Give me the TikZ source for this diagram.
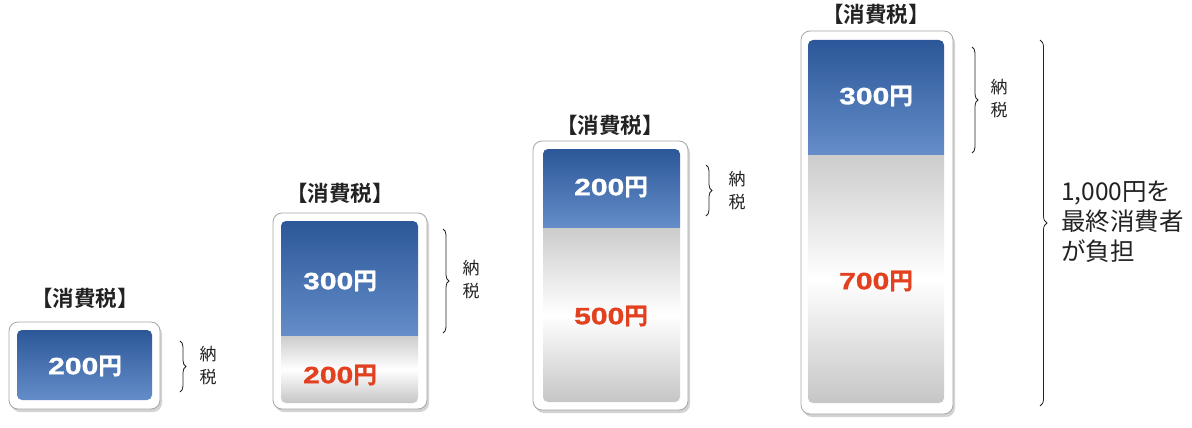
\documentclass[tikz,border=0pt]{standalone}
\usepackage{fontspec}
\setmainfont{Noto Sans CJK JP}
\newfontfamily\jpb{Noto Sans CJK JP Bold}
\newfontfamily\jpbb{Noto Sans CJK JP Bold}[FakeBold=1.2]
\newfontfamily\numb{Liberation Sans Bold}[FakeStretch=1.28,FakeBold=1.3]
\usetikzlibrary{shadows,decorations.pathreplacing}
\definecolor{bluetop}{HTML}{2C5798}
\definecolor{bluebot}{HTML}{648DC9}
\definecolor{redtxt}{HTML}{E2401E}
\definecolor{txt}{HTML}{222222}
\newcommand{\amt}[1]{{\numb #1}{\jpbb 円}}
\tikzset{
  frame/.style={draw=gray!70, line width=0.8pt, fill=white, rounded corners=9pt,
    drop shadow={shadow xshift=2pt, shadow yshift=-3pt, opacity=0.35, fill=gray}},
  bluefill/.style={top color=bluetop, bottom color=bluebot},
  greyfill/.style={top color=gray!40, bottom color=gray!45, middle color=white},
  title/.style={font=\jpb\fontsize{21.5}{22}\selectfont, text=txt, inner sep=0pt},
  amtw/.style={font=\fontsize{23.5}{24}\selectfont, text=white, inner sep=0pt},
  amtr/.style={font=\fontsize{23.5}{24}\selectfont, text=redtxt, inner sep=0pt},
  small/.style={font=\fontsize{17}{23}\selectfont, text=txt, align=center, inner sep=0pt},
  big/.style={font=\fontsize{24.5}{30}\selectfont, text=txt, align=left, inner sep=0pt, anchor=west},
  brc/.style={decorate, decoration={brace, amplitude=6pt}, draw=txt, line width=0.8pt}
}
\begin{document}
\begin{tikzpicture}[x=1pt,y=-1pt]
\useasboundingbox (0,0) rectangle (1192,428);
% ---- box 1
\path[frame] (9,322) rectangle (160,409);
\shade[bluefill, rounded corners=5pt] (17,330) rectangle (152,400);
\node[title] (t1) at (85,298) {【消費税】};
\node[amtw] (a1) at (85,366) {\amt{200}};
\coordinate (b1a) at (180,341); \coordinate (b1b) at (180,392);
\draw[brc] (b1a) -- (b1b);
\node[small] (n1) at (208,366) {納\\税};
% ---- box 2
\path[frame] (273,213) rectangle (427,409);
\shade[bluefill] (281,336) [rounded corners=5pt] -- (281,221) -- (418,221) [sharp corners] -- (418,336) -- cycle;
\shade[greyfill] (281,336) [rounded corners=5pt] -- (281,403) -- (418,403) [sharp corners] -- (418,336) -- cycle;
\node[title] (t2) at (340,193) {【消費税】};
\node[amtw] (a2) at (340,281) {\amt{300}};
\node[amtr] (r2) at (340,375) {\amt{200}};
\coordinate (b2a) at (443,229); \coordinate (b2b) at (443,333);
\draw[brc] (b2a) -- (b2b);
\node[small] (n2) at (471,280) {納\\税};
% ---- box 3
\path[frame] (533,141) rectangle (688,410);
\shade[bluefill] (543,228) [rounded corners=5pt] -- (543,149) -- (680,149) [sharp corners] -- (680,228) -- cycle;
\shade[greyfill] (543,228) [rounded corners=5pt] -- (543,402) -- (680,402) [sharp corners] -- (680,228) -- cycle;
\node[title] (t3) at (610,125) {【消費税】};
\node[amtw] (a3) at (611,187) {\amt{200}};
\node[amtr] (r3) at (611,316) {\amt{500}};
\coordinate (b3a) at (706,165); \coordinate (b3b) at (706,216);
\draw[brc] (b3a) -- (b3b);
\node[small] (n3) at (737,191) {納\\税};
% ---- box 4
\path[frame] (801,31) rectangle (953,414);
\shade[bluefill] (808,155) [rounded corners=5pt] -- (808,40) -- (944,40) [sharp corners] -- (944,155) -- cycle;
\shade[greyfill] (808,155) [rounded corners=5pt] -- (808,403) -- (944,403) [sharp corners] -- (944,155) -- cycle;
\node[title] (t4) at (876,14) {【消費税】};
\node[amtw] (a4) at (876,96) {\amt{300}};
\node[amtr] (r4) at (876,281) {\amt{700}};
\coordinate (b4a) at (972,47); \coordinate (b4b) at (972,153);
\draw[brc] (b4a) -- (b4b);
\node[small] (n4) at (999,99) {納\\税};
\coordinate (b5a) at (1040,40); \coordinate (b5b) at (1040,406);
\draw[brc, decoration={brace, amplitude=7pt}] (b5a) -- (b5b);
\node[big] (tot) at (1061,222) {1,000円を\\最終消費者\\が負担};
\end{tikzpicture}
\end{document}
